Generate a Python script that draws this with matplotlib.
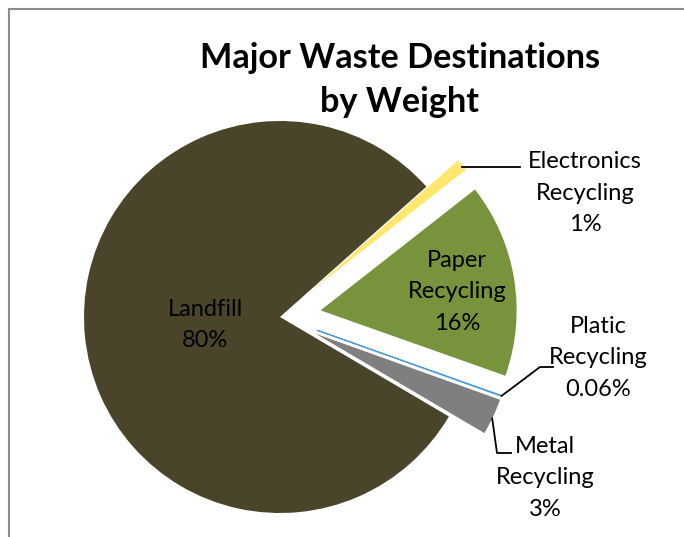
import matplotlib.pyplot as plt
import numpy as np

plt.rcParams['font.family'] = ['Lato', 'DejaVu Sans']

labels = ['Landfill', 'Electronics\nRecycling', 'Paper\nRecycling', 'Platic\nRecycling', 'Metal\nRecycling']
values = [80, 1, 16, 0.06, 3]
pct_text = ['80%', '1%', '16%', '0.06%', '3%']
colors = ['#4A452A', '#FFE66D', '#77933C', '#4F9BD9', '#7F7F7F']
explode = [0, 0.21, 0.21, 0.2, 0.2]

W, H = 684, 537
scale = 196.0          # pixels per unit radius
cx, cy = 280, 317      # pie centre in pixels (from top-left)

fig = plt.figure(figsize=(W / 100, H / 100), dpi=100)
ax = fig.add_axes([0, 0, 1, 1])


def px(x, y):
    # pixel position (top-left origin) -> data coords
    return (x - cx) / scale, (cy - y) / scale


wedges, _ = ax.pie(values, colors=colors, explode=explode, startangle=-30.5,
                   counterclock=False, radius=1,
                   wedgeprops=dict(linewidth=0, edgecolor='none'))
# the plastic slice is so thin it needs an outline to show up
wedges[3].set_edgecolor(colors[3])
wedges[3].set_linewidth(0.8)

# pie() resets the limits, so set them afterwards
ax.set_xlim(-cx / scale, (W - cx) / scale)
ax.set_ylim(-(H - cy) / scale, cy / scale)
ax.axis('off')


def outer_point(w, frac=0.5):
    t = np.deg2rad(w.theta1 + (w.theta2 - w.theta1) * frac)
    return w.center[0] + w.r * np.cos(t), w.center[1] + w.r * np.sin(t)


fs = 17
ls = 1.62
# labels inside slices
ax.text(*px(205, 325), labels[0] + '\n' + pct_text[0], ha='center', va='center',
        fontsize=fs, linespacing=ls)
ax.text(*px(457, 292), labels[2] + '\n' + pct_text[2], ha='center', va='center',
        fontsize=fs, linespacing=ls)

# labels outside with leader lines
ax.text(*px(585, 193), labels[1] + '\n' + pct_text[1], ha='center', va='center',
        fontsize=fs, linespacing=ls)
p0 = outer_point(wedges[1])
p1 = px(520, 167)
ax.plot([p0[0], p1[0]], [p1[1], p1[1]], color='black', lw=1.3)

ax.text(*px(598, 358), labels[3] + '\n' + pct_text[3], ha='center', va='center',
        fontsize=fs, linespacing=ls)
p0 = outer_point(wedges[3])
p1 = px(540, 367)
p2 = px(553, 367)
ax.plot([p0[0], p1[0], p2[0]], [p0[1], p1[1], p2[1]], color='black', lw=1.3)

ax.text(*px(545, 478), labels[4] + '\n' + pct_text[4], ha='center', va='center',
        fontsize=fs, linespacing=ls)
p0 = outer_point(wedges[4], 0.45)
p1 = px(497, 453)
p2 = px(511, 453)
ax.plot([p0[0], p1[0], p2[0]], [p0[1], p1[1], p2[1]], color='black', lw=1.3)

fig.text(400 / W, 1 - 80 / H, 'Major Waste Destinations\nby Weight', ha='center',
         va='center', fontsize=24.7, fontweight='bold', linespacing=1.48)

# chart area border (only top and left edges fall inside the image)
fig.add_artist(plt.Line2D([8.5 / W, 8.5 / W], [0, 1 - 8.5 / H], color='#8C8C8C', lw=1.5,
                          transform=fig.transFigure))
fig.add_artist(plt.Line2D([8.5 / W, 1], [1 - 8.5 / H, 1 - 8.5 / H], color='#8C8C8C', lw=1.5,
                          transform=fig.transFigure))

fig.savefig('out.png', dpi=100)
